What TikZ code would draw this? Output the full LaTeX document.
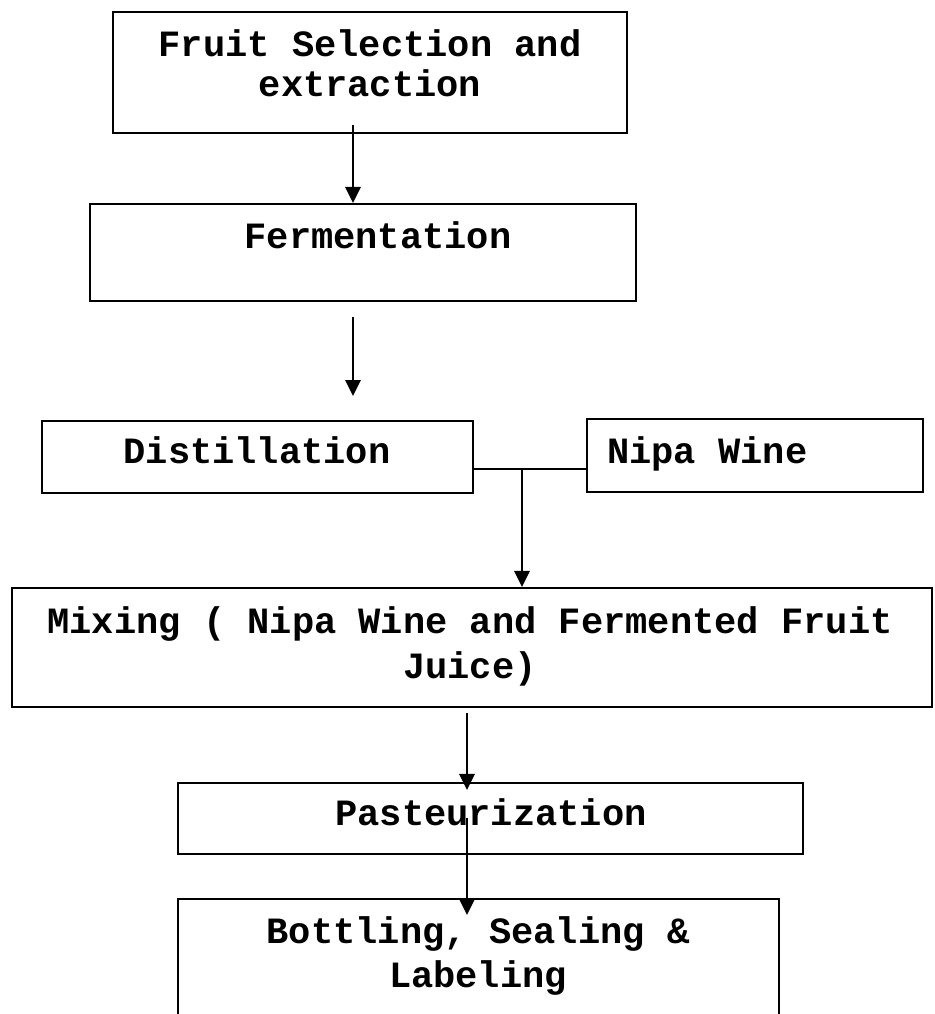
\documentclass[tikz,border=0pt]{standalone}
\usepackage{fontspec}
\setmainfont{Liberation Mono}
\usetikzlibrary{arrows.meta,calc}
\tikzset{
  box/.style={draw, line width=1.6pt, inner sep=0pt, rectangle},
  lbl/.style={font=\fontsize{27.8}{30}\selectfont\bfseries, inner sep=0pt, align=center, anchor=base},
  arr/.style={line width=1.6pt, -{Triangle[length=12pt,width=11.5pt]}},
  conn/.style={line width=1.6pt}
}
\begin{document}
\begin{tikzpicture}[x=0.75pt, y=-0.75pt]
\useasboundingbox (0,0) rectangle (935,1014);
\clip (0,0) rectangle (935,1014);
% boxes
\node[box, minimum width=385.5pt, minimum height=90.75pt] (fruit) at (370,72.5) {};
\node[box, minimum width=409.5pt, minimum height=72.75pt] (ferm) at (363,252.5) {};
\node[box, minimum width=323.25pt, minimum height=54pt] (dist) at (257.5,457) {};
\node[box, minimum width=252pt, minimum height=54.75pt] (nipa) at (755,455.5) {};
\node[box, minimum width=690pt, minimum height=89.25pt] (mix) at (472,647.5) {};
\node[box, minimum width=468.75pt, minimum height=53.25pt] (past) at (490.5,818.5) {};
\node[box, minimum width=450.75pt, minimum height=105.75pt] (bott) at (478.5,969.5) {};
% texts (multi-line nodes anchored at the baseline of their last line)
\node[lbl] (tfruit) at (370,96) {Fruit Selection and\\extraction};
\node[lbl] (tferm) at (378,248) {Fermentation};
\node[lbl] (tdist) at (257,463) {Distillation};
\node[lbl, anchor=base west] (tnipa) at (607,463) {Nipa Wine};
\node[lbl, font=\fontsize{27.8}{33.75}\selectfont\bfseries] (tmix) at (470,678) {Mixing ( Nipa Wine and Fermented Fruit\\Juice)};
\node[lbl] (tpast) at (491,825) {Pasteurization};
\node[lbl, font=\fontsize{27.8}{33}\selectfont\bfseries] (tbott) at (478,987) {Bottling, Sealing \&\\Labeling};
% connectors
\coordinate (a1s) at (353,125);
\draw[arr] (a1s) -- (a1s |- ferm.north);
\coordinate (a2s) at (353,317);
\coordinate (a2e) at (353,396);
\draw[arr] (a2s) -- (a2e);
\draw[conn] ([yshift=-9pt]dist.east) -- ([yshift=-9pt]dist.east -| nipa.west);
\coordinate (j) at (522,469);
\draw[arr] (j) -- (j |- mix.north);
\coordinate (a3s) at (467,713);
\draw[arr] (a3s) -- ([yshift=-6pt]a3s |- past.north);
\coordinate (a4s) at (467,818);
\draw[arr] (a4s) -- ([yshift=-12.75pt]a4s |- bott.north);
\end{tikzpicture}
\end{document}
